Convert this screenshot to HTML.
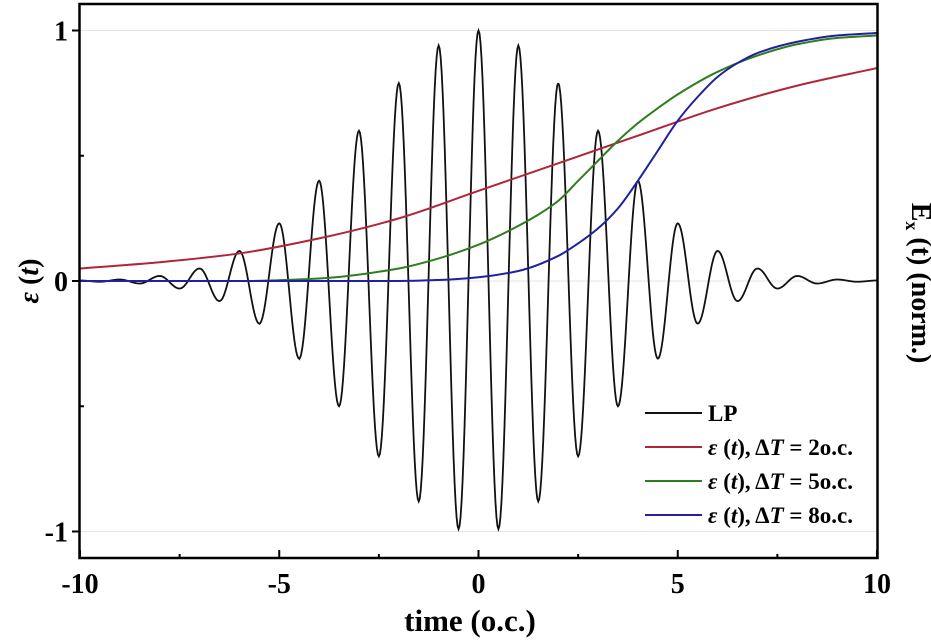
<!DOCTYPE html>
<html><head><meta charset="utf-8"><style>
body{margin:0;background:#fff}
svg{display:block;font-family:"Liberation Serif",serif;font-weight:bold}
</style></head><body>
<svg id="chart" width="931" height="643">
<g id="grid"></g>
<g id="series"></g>
<rect x="79.5" y="4" width="798" height="554" fill="none" stroke="#000" stroke-width="2.5"/>
<g id="axes"></g>
<text x="470" y="631" font-size="31" text-anchor="middle">time (o.c.)</text>
<text transform="translate(38,281) rotate(-90)" font-size="28" text-anchor="middle"><tspan font-style="italic">ε</tspan> (<tspan font-style="italic">t</tspan>)</text>
<text transform="translate(912,283) rotate(90)" font-size="28" text-anchor="middle">E<tspan font-size="18" dy="6">x</tspan><tspan dy="-6"> (t) (norm.)</tspan></text>
<g id="legend"></g>
</svg>
<script>
const xTicks=[-10,-5,0,5,10];
const yTicks=[-1,0,1];
const lpTimes=[-10,-9.5,-9,-8.5,-8,-7.5,-7,-6.5,-6,-5.5,-5,-4.5,-4,-3.5,-3,-2.5,-2,-1.5,-1,-0.5,0,0.5,1,1.5,2,2.5,3,3.5,4,4.5,5,5.5,6,6.5,7,7.5,8,8.5,9,9.5,10];
const lpPeaks=[0.002,-0.003,0.006,-0.01,0.02,-0.03,0.05,-0.08,0.12,-0.17,0.23,-0.31,0.4,-0.5,0.6,-0.7,0.79,-0.88,0.94,-0.99,1,-0.99,0.94,-0.88,0.79,-0.7,0.6,-0.5,0.4,-0.31,0.23,-0.17,0.12,-0.08,0.05,-0.03,0.02,-0.01,0.006,-0.003,0.002];
const redTimes=[-10,-8,-6,-4,-2,0,2,4,6,8,10];
const red=[0.05,0.075,0.11,0.17,0.25,0.36,0.47,0.58,0.69,0.78,0.85];
const greenTimes=[-10,-6,-4,-2,-1,0,0.5,1,1.5,2,2.5,3,3.5,4,4.5,5,6,7,8,9,10];
const green=[0,0,0.01,0.05,0.09,0.145,0.18,0.22,0.265,0.32,0.40,0.48,0.56,0.63,0.69,0.745,0.835,0.9,0.945,0.97,0.98];
const blueTimes=[-10,-4,-2,-1,0,1,2,2.5,3,3.5,4,4.5,5,5.5,6,6.5,7,8,9,10];
const blue=[0,0,0,0.004,0.015,0.04,0.1,0.15,0.21,0.29,0.4,0.52,0.64,0.735,0.815,0.87,0.91,0.955,0.98,0.99];
const X=t=>478.5+t*39.85, Y=v=>281-v*250.5;
const NS='http://www.w3.org/2000/svg';
function mk(tag,attrs,parent){const e=document.createElementNS(NS,tag);for(const k in attrs)e.setAttribute(k,attrs[k]);document.getElementById(parent).appendChild(e);return e;}
yTicks.forEach(v=>{
 const g=mk('line',{x1:81,x2:876,y1:Y(v),y2:Y(v),stroke:'#e4e4e4','stroke-width':1},'grid');
 
 
 const t=mk('line',{x1:72,x2:79,y1:Y(v),y2:Y(v),stroke:'#000','stroke-width':2},'axes');
 
 
 const l=mk('text',{x:68,y:Y(v)+10,'font-size':28,'text-anchor':'end'},'axes');l.textContent=v;
 
 
});
[-0.5,0.5].forEach(v=>{const t=mk('line',{x1:79,x2:84,y1:Y(v),y2:Y(v),stroke:'#000','stroke-width':2},'axes');
 
 });
xTicks.forEach(v=>{
 const t=mk('line',{x1:X(v),x2:X(v),y1:558,y2:550,stroke:'#000','stroke-width':2},'axes');
 
 
 const l=mk('text',{x:X(v),y:593,'font-size':28,'text-anchor':'middle'},'axes');l.textContent=v;
 
 
});
[-7.5,-2.5,2.5,7.5].forEach(v=>{const t=mk('line',{x1:X(v),x2:X(v),y1:558,y2:554,stroke:'#000','stroke-width':2},'axes');
 
 });
let d='';
for(let i=0;i<lpTimes.length-1;i++){
 const t0=lpTimes[i],t1=lpTimes[i+1],a=lpPeaks[i],b=lpPeaks[i+1];
 for(let k=0;k<=20;k++){const f=k/20,w=(1-Math.cos(Math.PI*f))/2;const t=t0+(t1-t0)*f,v=a+(b-a)*w;
  d+=(d?'L':'M')+X(t).toFixed(2)+','+Y(v).toFixed(2);}
}
const lp=mk('path',{d:d,fill:'none',stroke:'#111','stroke-width':1.8},'series');


function smooth(ts,vs){const n=ts.length,xs=ts.map(X),ys=vs.map(Y);const dx=[],m=[],s=[];
 for(let i=0;i<n-1;i++){dx[i]=xs[i+1]-xs[i];s[i]=(ys[i+1]-ys[i])/dx[i];}
 m[0]=s[0];m[n-1]=s[n-2];
 for(let i=1;i<n-1;i++){m[i]=(s[i-1]*s[i]<=0)?0:3*(dx[i-1]+dx[i])/((2*dx[i]+dx[i-1])/s[i-1]+(dx[i]+2*dx[i-1])/s[i]);}
 let p='M'+xs[0]+','+ys[0];
 for(let i=0;i<n-1;i++){const h=dx[i]/3;p+='C'+(xs[i]+h)+','+(ys[i]+m[i]*h)+' '+(xs[i+1]-h)+','+(ys[i+1]-m[i+1]*h)+' '+xs[i+1]+','+ys[i+1];}
 return p;}
const sr=mk('path',{d:smooth(redTimes,red),fill:'none',stroke:'#b0253a','stroke-width':2},'series');


const sg=mk('path',{d:smooth(greenTimes,green),fill:'none',stroke:'#2e7d1e','stroke-width':2},'series');


const sb=mk('path',{d:smooth(blueTimes,blue),fill:'none',stroke:'#2020a0','stroke-width':2},'series');


const leg=[['#111',''],['#b0253a','2o.c.'],['#2e7d1e','5o.c.'],['#2020a0','8o.c.']];
leg.forEach((e,i)=>{const y=413+i*34;
 const l=mk('line',{x1:645,x2:702,y1:y,y2:y,stroke:e[0],'stroke-width':2},'legend');
 
 
 const t=mk('text',{x:708,y:y+8,'font-size':23},'legend');
 t.innerHTML=i==0?'LP':'<tspan font-style="italic">ε</tspan> (<tspan font-style="italic">t</tspan>), Δ<tspan font-style="italic">T</tspan> = '+e[1];
 
 
});
</script>
</body></html>
